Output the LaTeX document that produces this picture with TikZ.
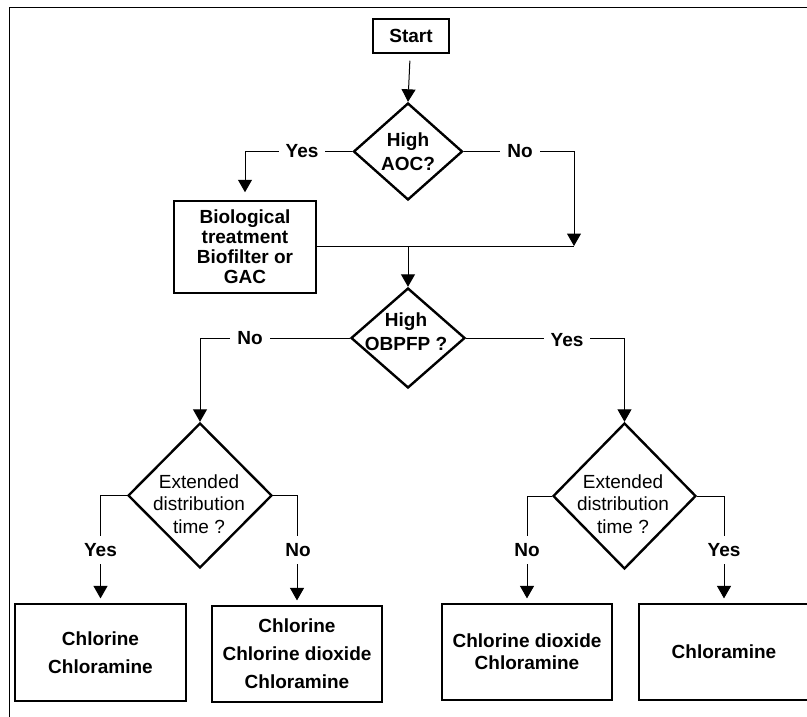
\documentclass[tikz,border=0pt]{standalone}
\usepackage{fontspec}
\setmainfont{Liberation Sans}
\usetikzlibrary{arrows.meta,shapes.geometric}
\tikzset{
  conn/.style={line width=1pt, draw=black},
  arr/.style={conn, -{Triangle[width=14pt,length=12.5pt]}},
  lbl/.style={font=\fontsize{19}{20}\selectfont\bfseries, fill=white, inner xsep=7pt, inner ysep=5pt},
  boxnode/.style={draw, rectangle, line width=1.2pt, align=center, inner sep=0pt},
  dia/.style={draw, diamond, line width=2.4pt, inner sep=0pt},
  btext/.style={align=center, font=\fontsize{19}{24}\selectfont\bfseries, inner sep=0pt},
  rtext/.style={align=center, font=\fontsize{19}{22.5}\selectfont, inner sep=0pt}
}
\begin{document}
\begin{tikzpicture}[x=1pt,y=-1pt]
\useasboundingbox (0,0) rectangle (807,717);
\clip (0,0) rectangle (807,717);
\fill[white] (0,0) rectangle (807,717);
% frame
\draw[line width=1.8pt] (9.5,717) -- (9.5,7.5) -- (807,7.5);

% nodes
\node[boxnode, line width=1.5pt, minimum width=76pt, minimum height=34pt,
      font=\fontsize{19}{20}\selectfont\bfseries] (start) at (411,36) {Start};
\node[dia, minimum width=109pt, minimum height=97pt] (d1) at (408,151.5) {};
\node[btext] (t1) at (408,152) {High\\AOC?};
\node[boxnode, line width=1.5pt, minimum width=142pt, minimum height=92pt,
      font=\fontsize{19}{20}\selectfont\bfseries] (bio) at (245,247)
      {Biological\\treatment\\Biofilter or\\GAC};
\coordinate (m) at (574,246);
\coordinate (j) at (408,246);
\node[dia, minimum width=114pt, minimum height=100pt] (d2) at (408,338) {};
\node[btext] (t2) at (406,332) {High\\OBPFP ?};
\node[dia, minimum width=144pt, minimum height=145pt] (d3) at (200,495.5) {};
\node[rtext] (t3) at (199,504) {Extended\\distribution\\time ?};
\node[dia, minimum width=143pt, minimum height=146pt] (d4) at (624.5,496) {};
\node[rtext] (t4) at (623,504) {Extended\\distribution\\time ?};

\node[boxnode, minimum width=171pt, minimum height=97pt,
      font=\fontsize{19}{28.5}\selectfont\bfseries] (b1) at (100.5,652.5) {Chlorine\\Chloramine};
\node[boxnode, minimum width=170pt, minimum height=96pt,
      font=\fontsize{19}{28}\selectfont\bfseries] (b2) at (297,654) {Chlorine\\Chlorine dioxide\\Chloramine};
\node[boxnode, minimum width=170pt, minimum height=96pt,
      font=\fontsize{19}{22}\selectfont\bfseries] (b3) at (527,652) {Chlorine dioxide\\Chloramine};
\node[boxnode, minimum width=170pt, minimum height=96pt,
      font=\fontsize{19}{22}\selectfont\bfseries] (b4) at (724,652) {Chloramine};

% connectors
\draw[arr, shorten <=7pt] (start) -- (d1.north);
\draw[arr, shorten >=8pt] (d1.west) -| (bio.north);
\draw[arr] (d1.east) -| (m);
\draw[conn] (bio.east |- m) -- (m);
\draw[arr] (j) -- (d2.north);
\draw[arr] (d2.west) -| (d3.north);
\draw[arr] (d2.east) -| (d4.north);
\draw[arr, shorten >=5pt] (d3.west) -| (b1.north);
\draw[arr, shorten >=5pt] (d3.east) -| (b2.north);
\draw[arr, shorten >=5pt] (d4.west) -| (b3.north);
\draw[arr, shorten >=5pt] (d4.east) -| (b4.north);

% labels
\node[lbl] (l1) at (302,151.5) {Yes};
\node[lbl] (l2) at (520,151.5) {No};
\node[lbl] (l3) at (250,338) {No};
\node[lbl] (l4) at (567,340) {Yes};
\node[lbl, inner xsep=2pt, inner ysep=7pt] (l5) at (100.5,550) {Yes};
\node[lbl, inner xsep=2pt, inner ysep=7pt] (l6) at (298,550) {No};
\node[lbl, inner xsep=2pt, inner ysep=7pt] (l7) at (527,550) {No};
\node[lbl, inner xsep=2pt, inner ysep=7pt] (l8) at (724,550) {Yes};
\end{tikzpicture}
\end{document}
